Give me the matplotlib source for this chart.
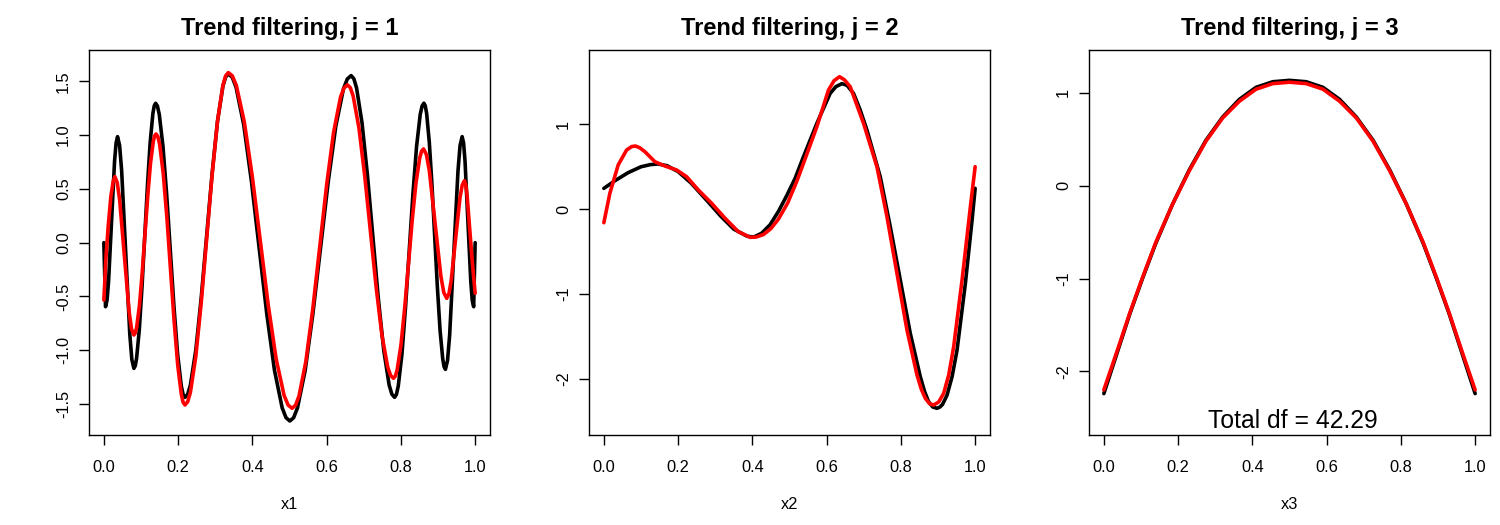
import matplotlib
matplotlib.use('Agg')
import matplotlib.pyplot as plt

plt.rcParams['font.family'] = ['Liberation Sans', 'DejaVu Sans']
plt.rcParams['axes.unicode_minus'] = False

# panel 1: true component (black) and trend filtering fit (red)
x1_true = [0.000, 0.0045,
           0.0086, 0.0126, 0.0207, 0.0288, 0.0329, 0.0369,
           0.0424, 0.0479, 0.0589, 0.0699, 0.0754, 0.0809,
           0.0846, 0.0882, 0.0955, 0.1028, 0.1102, 0.1175, 0.1248, 0.1321, 0.1357, 0.1394,
           0.1443, 0.1493, 0.1592, 0.1691, 0.1790, 0.1888, 0.1987, 0.2086, 0.2136, 0.2185,
           0.2258, 0.2331, 0.2477, 0.2623, 0.2769, 0.2915, 0.3061, 0.3207, 0.3280, 0.3353,
           0.3457, 0.3560, 0.3767, 0.3974, 0.4181, 0.4388, 0.4595, 0.4802, 0.4906, 0.5009,
           0.5112, 0.5215, 0.5422, 0.5628, 0.5835, 0.6041, 0.6247, 0.6454, 0.6557, 0.6660,
           0.6733, 0.6806, 0.6953, 0.7099, 0.7245, 0.7391, 0.7538, 0.7684, 0.7757, 0.7830,
           0.7879, 0.7929, 0.8028, 0.8126, 0.8225, 0.8324, 0.8423, 0.8521, 0.8571, 0.8620,
           0.8656, 0.8693, 0.8765, 0.8838, 0.8910, 0.8983, 0.9055, 0.9128, 0.9164, 0.9200,
           0.9256, 0.9313, 0.9425, 0.9538, 0.9594, 0.9650,
           0.9689, 0.9728, 0.9805, 0.9883, 0.9921, 0.9960, 1.000]
f1_true = [0.000, -0.595,
           -0.535, -0.364, 0.195, 0.754, 0.925, 0.985,
           0.903, 0.670, -0.092, -0.853, -1.086, -1.168,
           -1.144, -1.074, -0.807, -0.408, 0.064, 0.535, 0.934, 1.201, 1.271, 1.295,
           1.269, 1.191, 0.895, 0.452, -0.071, -0.594, -1.037, -1.333, -1.411, -1.437,
           -1.408, -1.323, -0.997, -0.509, 0.066, 0.640, 1.128, 1.454, 1.539, 1.568,
           1.537, 1.445, 1.096, 0.572, -0.045, -0.661, -1.185, -1.534, -1.626, -1.657,
           -1.626, -1.535, -1.187, -0.666, -0.053, 0.561, 1.082, 1.430, 1.521, 1.552,
           1.523, 1.438, 1.114, 0.629, 0.058, -0.514, -0.999, -1.323, -1.408, -1.437,
           -1.411, -1.333, -1.037, -0.593, -0.071, 0.452, 0.896, 1.192, 1.270, 1.296,
           1.272, 1.202, 0.934, 0.533, 0.060, -0.414, -0.815, -1.083, -1.153, -1.177,
           -1.095, -0.860, -0.096, 0.668, 0.903, 0.985,
           0.925, 0.754, 0.195, -0.364, -0.535, -0.595, 0.000]
x1_fit = [0.000, 0.0060, 0.0117, 0.0189, 0.0252, 0.0297,
          0.0361, 0.0425, 0.0553, 0.0681, 0.0745, 0.0809,
          0.0846, 0.0884, 0.0958, 0.1033, 0.1107, 0.1182, 0.1256, 0.1331, 0.1368, 0.1405,
          0.1454, 0.1503, 0.1600, 0.1698, 0.1795, 0.1893, 0.1990, 0.2088, 0.2136, 0.2185,
          0.2258, 0.2331, 0.2477, 0.2623, 0.2769, 0.2915, 0.3061, 0.3207, 0.3280, 0.3353,
          0.3460, 0.3568, 0.3782, 0.3997, 0.4212, 0.4426, 0.4641, 0.4855, 0.4963, 0.5070,
          0.5163, 0.5256, 0.5443, 0.5629, 0.5815, 0.6001, 0.6188, 0.6374, 0.6467, 0.6560,
          0.6638, 0.6715, 0.6870, 0.7025, 0.7180, 0.7335, 0.7490, 0.7645, 0.7723, 0.7800,
          0.7851, 0.7901, 0.8003, 0.8104, 0.8205, 0.8306, 0.8408, 0.8509, 0.8559, 0.8610,
          0.8688, 0.8766, 0.8922, 0.9078, 0.9156, 0.9234,
          0.9294, 0.9353, 0.9472, 0.9591, 0.9651, 0.9710,
          0.9746, 0.9783, 0.9855, 0.9928, 1.000]
f1_fit = [-0.533, -0.120, 0.150, 0.430, 0.570, 0.613,
          0.557, 0.398, -0.123, -0.643, -0.802, -0.858,
          -0.840, -0.787, -0.585, -0.281, 0.076, 0.433, 0.737, 0.939, 0.992, 1.010,
          0.986, 0.914, 0.641, 0.233, -0.249, -0.731, -1.139, -1.412, -1.484, -1.508,
          -1.478, -1.390, -1.056, -0.555, 0.036, 0.627, 1.128, 1.462, 1.550, 1.580,
          1.550, 1.461, 1.123, 0.617, 0.021, -0.576, -1.082, -1.420, -1.509, -1.539,
          -1.510, -1.425, -1.099, -0.611, -0.037, 0.538, 1.026, 1.352, 1.437, 1.466,
          1.440, 1.362, 1.067, 0.624, 0.103, -0.418, -0.861, -1.156, -1.234, -1.260,
          -1.240, -1.179, -0.948, -0.602, -0.195, 0.213, 0.559, 0.790, 0.851, 0.871,
          0.818, 0.668, 0.177, -0.314, -0.464, -0.517,
          -0.475, -0.357, 0.030, 0.416, 0.534, 0.576,
          0.540, 0.440, 0.120, -0.200, -0.470]

# panel 2
x2_true = [0.0, 0.03, 0.065, 0.10, 0.125, 0.145, 0.17, 0.20, 0.235, 0.28, 0.315, 0.35,
           0.385, 0.395, 0.405, 0.425, 0.4477, 0.47, 0.4928, 0.515, 0.5376, 0.5737, 0.6096,
           0.625, 0.6411, 0.655, 0.6724, 0.69, 0.7086, 0.7444, 0.7714, 0.7984, 0.8253,
           0.8523, 0.864, 0.8747, 0.886, 0.8974, 0.905, 0.912, 0.9243, 0.938, 0.9513,
           0.9737, 0.9917, 1.0]
f2_true = [0.243, 0.333, 0.427, 0.497, 0.522, 0.530, 0.510, 0.440, 0.305, 0.088, -0.085,
           -0.237, -0.318, -0.326, -0.327, -0.285, -0.185, -0.030, 0.160, 0.360, 0.615,
           1.008, 1.361, 1.440, 1.475, 1.455, 1.361, 1.170, 0.929, 0.380, -0.208, -0.835,
           -1.463, -1.973, -2.150, -2.267, -2.330, -2.345, -2.330, -2.300, -2.190, -1.970,
           -1.659, -0.875, -0.129, 0.243]
x2_fit = [0.0, 0.0162, 0.0386, 0.0612, 0.075, 0.0854, 0.097, 0.1106, 0.1376, 0.1645,
          0.196, 0.223, 0.2544, 0.2904, 0.3264, 0.3623, 0.3938, 0.41, 0.43, 0.45, 0.47,
          0.495, 0.52, 0.5376, 0.5737, 0.605, 0.62, 0.6347, 0.648, 0.6635, 0.6994,
          0.7355, 0.7625, 0.7894, 0.8164, 0.8434, 0.855, 0.8658, 0.877, 0.8882, 0.902,
          0.9152, 0.929, 0.9422, 0.9648, 0.9872, 1.0]
f2_fit = [-0.161, 0.185, 0.518, 0.694, 0.735, 0.741, 0.720, 0.674, 0.556, 0.506,
          0.459, 0.380, 0.224, 0.067, -0.109, -0.267, -0.333, -0.330, -0.300, -0.230,
          -0.120, 0.070, 0.330, 0.537, 0.969, 1.400, 1.510, 1.557, 1.520, 1.439, 1.008,
          0.498, -0.090, -0.757, -1.424, -1.953, -2.120, -2.227, -2.290, -2.306, -2.270,
          -2.169, -1.950, -1.620, -0.835, 0.027, 0.498]

# panel 3
x3 = [0.0, 0.035, 0.07, 0.105, 0.14, 0.185, 0.23, 0.275, 0.32, 0.365, 0.41, 0.455, 0.5,
      0.545, 0.59, 0.635, 0.68, 0.725, 0.77, 0.815, 0.86, 0.895, 0.93, 0.965, 1.0]
f3_true = [-2.24, -1.81, -1.38, -0.99, -0.62, -0.20, 0.17, 0.49, 0.74, 0.93, 1.06, 1.12,
           1.135, 1.12, 1.06, 0.93, 0.74, 0.49, 0.17, -0.20, -0.62, -0.99, -1.38, -1.81,
           -2.24]
f3_fit = [-2.20, -1.79, -1.37, -0.98, -0.61, -0.20, 0.16, 0.48, 0.73, 0.91, 1.04, 1.10,
          1.115, 1.10, 1.04, 0.91, 0.73, 0.48, 0.16, -0.20, -0.61, -0.98, -1.37, -1.79,
          -2.20]

titles = ['Trend filtering, j = 1', 'Trend filtering, j = 2', 'Trend filtering, j = 3']
xlabels = ['x1', 'x2', 'x3']
xticks = [0.0, 0.2, 0.4, 0.6, 0.8, 1.0]
yticks = [[-1.5, -1.0, -0.5, 0.0, 0.5, 1.0, 1.5], [-2, -1, 0, 1], [-2, -1, 0, 1]]
ylims = [(-1.787, 1.79), (-2.659, 1.871), (-2.686, 1.462)]
total_df = 42.29

data = [(x1_true, f1_true, x1_fit, f1_fit),
        (x2_true, f2_true, x2_fit, f2_fit),
        (x3, f3_true, x3, f3_fit)]

fig = plt.figure(figsize=(15, 5.25), dpi=100)
lefts = [89, 589, 1089]
for i in range(3):
    ax = fig.add_axes([lefts[i] / 1500, 90 / 525, 401 / 1500, 385 / 525])
    xt, yt, xf, yf = data[i]
    ax.plot(xt, yt, color='black', lw=2.6, solid_joinstyle='round', solid_capstyle='round')
    ax.plot(xf, yf, color='red', lw=2.6, solid_joinstyle='round', solid_capstyle='round')
    ax.set_xlim(-0.04, 1.04)
    ax.set_ylim(*ylims[i])
    ax.set_xticks(xticks)
    ax.set_xticklabels(['%.1f' % t for t in xticks])
    ax.set_yticks(yticks[i])
    if i == 0:
        ax.set_yticklabels(['%.1f' % t for t in yticks[i]])
    else:
        ax.set_yticklabels(['%d' % t for t in yticks[i]])
    for lab in ax.get_yticklabels():
        lab.set_rotation(90)
        lab.set_va('center')
    ax.tick_params(direction='out', length=7, width=1, labelsize=11.8, pad=11)
    ax.tick_params(axis='y', pad=6)
    for s in ax.spines.values():
        s.set_linewidth(1)
    ax.set_title(titles[i], fontsize=17, fontweight='bold', pad=11)
    ax.set_xlabel(xlabels[i], fontsize=11.8, labelpad=16)
    if i == 2:
        ax.text(0.51, -2.54, 'Total df = %.2f' % total_df, ha='center', va='center',
                fontsize=17.8)

fig.savefig('out.png', dpi=100)
